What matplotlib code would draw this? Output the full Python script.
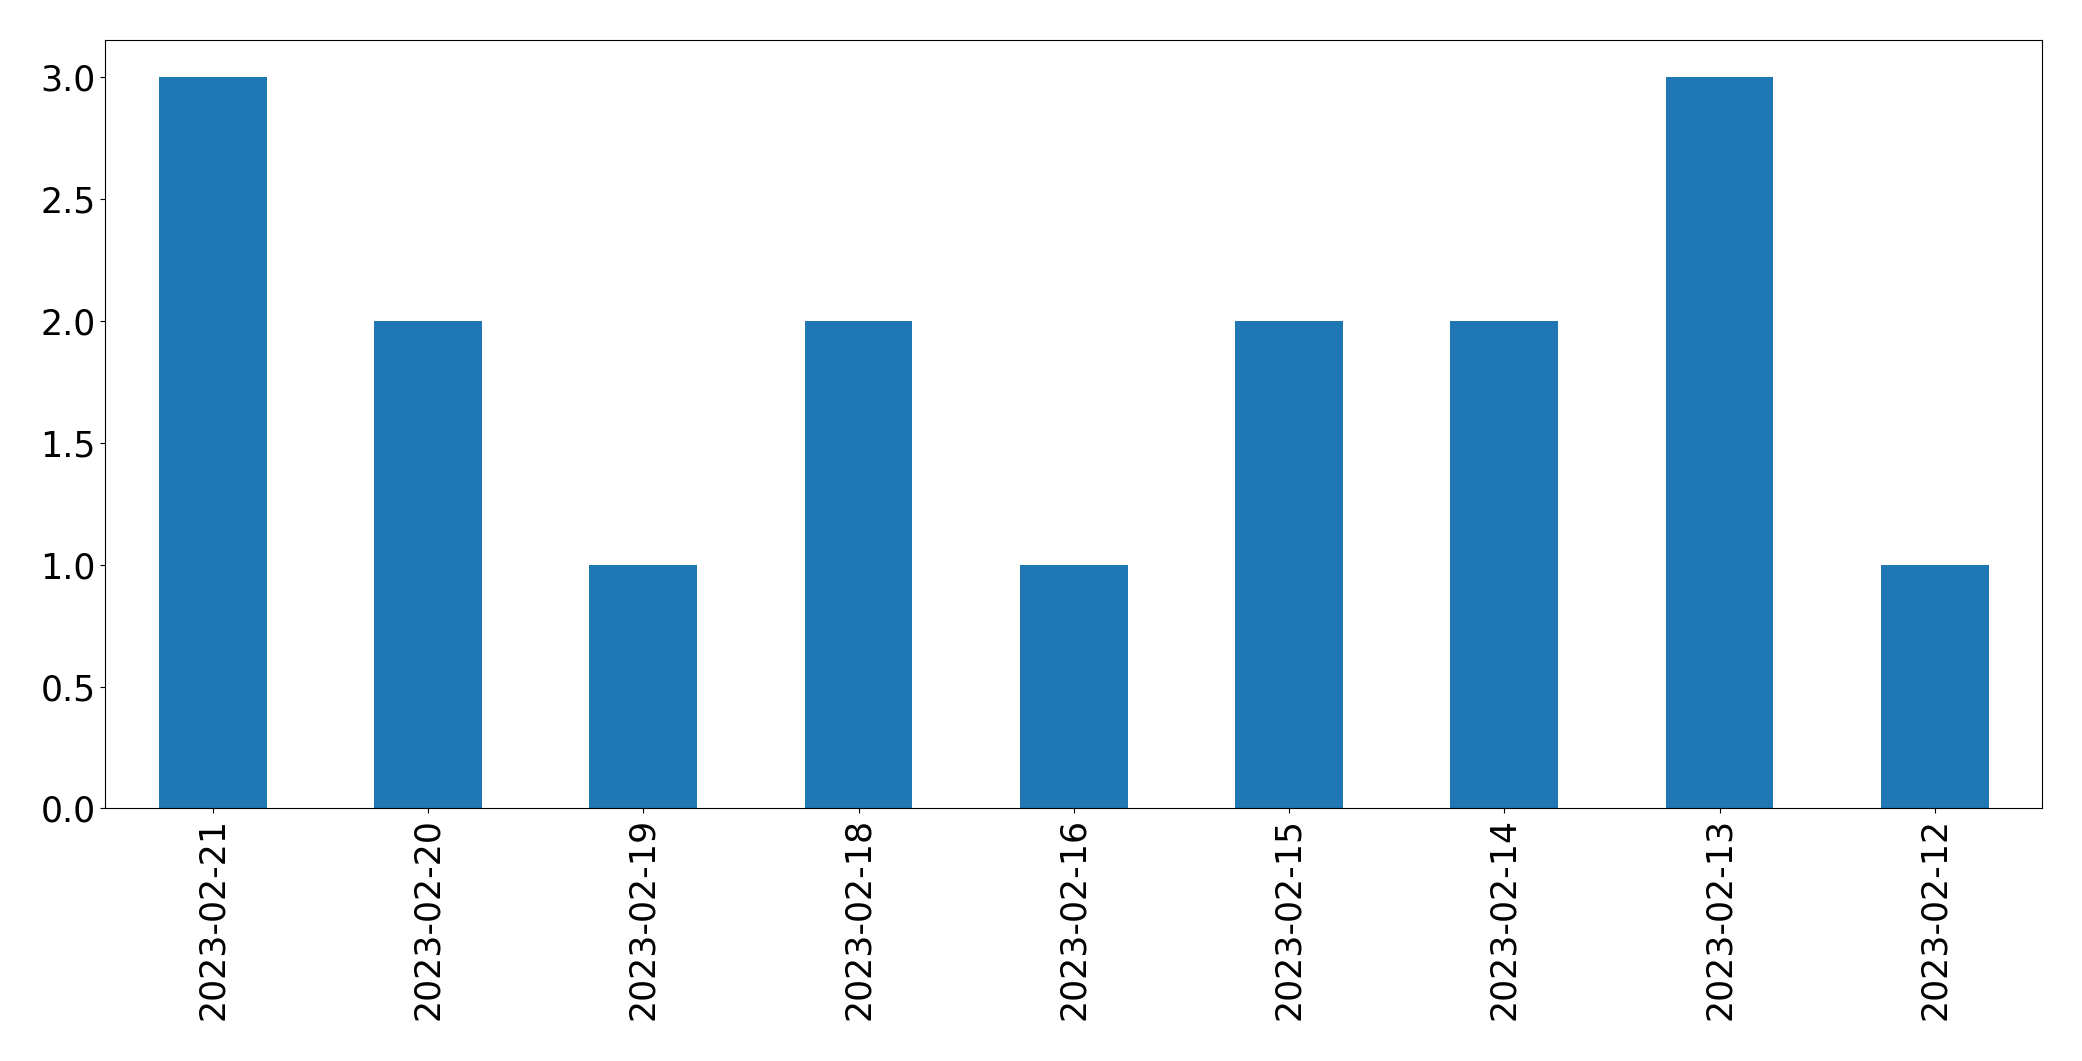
import matplotlib
matplotlib.use('Agg')
import matplotlib.pyplot as plt
import pandas as pd

dates = ['2023-02-21', '2023-02-20', '2023-02-19', '2023-02-18', '2023-02-16',
         '2023-02-15', '2023-02-14', '2023-02-13', '2023-02-12']
counts = [3, 2, 1, 2, 1, 2, 2, 3, 1]

s = pd.Series(counts, index=dates)

fig = plt.figure(figsize=(20.82, 10.61), dpi=100)
ax = fig.add_subplot(111)
s.plot(kind='bar', ax=ax, color='#1f77b4', fontsize=25)
ax.tick_params(axis='both', labelsize=25)
fig.subplots_adjust(left=0.0505, right=0.981, top=0.962, bottom=0.238)
fig.savefig('out.png', dpi=100)
